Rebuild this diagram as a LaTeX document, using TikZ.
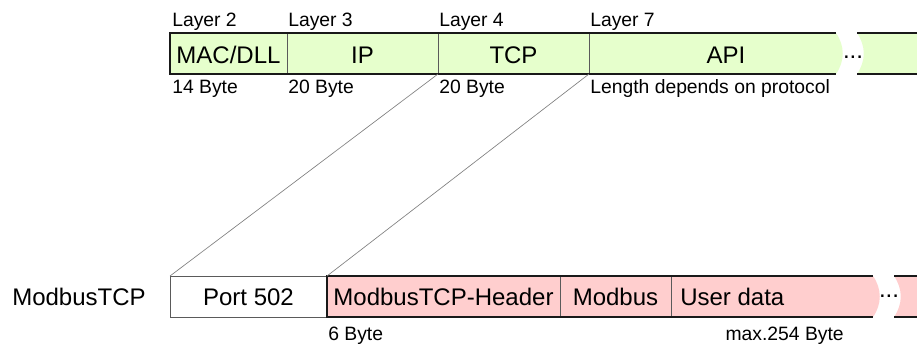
\documentclass[tikz,border=0pt]{standalone}
\usepackage{fontspec}
\setmainfont{Liberation Sans}
\usetikzlibrary{calc}
\definecolor{ipgreen}{RGB}{230,255,204}
\definecolor{mbpink}{RGB}{255,206,206}
\definecolor{rulegray}{RGB}{90,90,90}
\tikzset{
  frame/.style={line width=1.6pt, black!90},
  divider/.style={line width=0.7pt, rulegray},
  link/.style={line width=0.5pt, gray},
  small/.style={font=\fontsize{14.5}{16}\selectfont, inner sep=0pt},
  big/.style={font=\fontsize{18}{20}\selectfont, inner sep=0pt},
}

\begin{document}
\begin{tikzpicture}[x=0.75pt, y=-0.75pt]
  \useasboundingbox (0,0) rectangle (917,347);
  % corners used by the connectors
  \coordinate (tcpSW) at (438,74); \coordinate (apiSW) at (589,74);
  \coordinate (portNW) at (170,276); \coordinate (hdrNW) at (327,276);

  % upper frame
  \fill[ipgreen] (170,33) -- (836,33) .. controls (845,46) and (845,61) .. (836,74) -- (170,74) -- cycle;
  \fill[ipgreen] (857,33) -- (917,33) -- (917,74) -- (857,74) .. controls (866,61) and (866,46) .. (857,33);
  \foreach \x in {287,438,589} \draw[divider] (\x,33) -- (\x,74);
  \draw[frame] (836,33) -- (170,33) -- (170,74) -- (836,74) (857,33) -- (917,33) (857,74) -- (917,74);

  % lower frame
  \draw[divider, fill=white] (170,276) rectangle (327,317);
  \fill[mbpink] (327,276) -- (873,276) .. controls (882,289) and (882,304) .. (873,317) -- (327,317) -- cycle;
  \fill[mbpink] (894,276) -- (917,276) -- (917,317) -- (894,317) .. controls (903,304) and (903,289) .. (894,276);
  \foreach \x in {560,671} \draw[divider] (\x,276) -- (\x,317);
  \draw[frame] (873,276) -- (327,276) -- (327,317) -- (873,317) (894,276) -- (917,276) (894,317) -- (917,317);

  \draw[link] (tcpSW) -- (portNW);
  \draw[link] (apiSW) -- (hdrNW);

  % layer labels
  \node[small, anchor=base west] (l2) at (172,26) {Layer 2};
  \node[small, anchor=base west] (l3) at (288,26) {Layer 3};
  \node[small, anchor=base west] (l4) at (439,26) {Layer 4};
  \node[small, anchor=base west] (l7) at (590,26) {Layer 7};
  \node[small, anchor=base west] (s2) at (172,93) {14 Byte};
  \node[small, anchor=base west] (s3) at (288,93) {20 Byte};
  \node[small, anchor=base west] (s4) at (439,93) {20 Byte};
  \node[small, anchor=base west] (s7) at (590,93) {Length depends on protocol};

  \node[big, anchor=base] (mac) at (228.5,63) {MAC/DLL};
  \node[big, anchor=base] (ip) at (362.5,63) {IP};
  \node[big, anchor=base] (tcp) at (513.5,63) {TCP};
  \node[big, anchor=base] (api) at (726,63) {API};
  \node[big, anchor=base] (moreup) at (853,58) {...};

  \node[big, anchor=base west] (proto) at (12,305) {ModbusTCP};
  \node[big, anchor=base] (port) at (248.5,305) {Port 502};
  \node[big, anchor=base] (hdr) at (443.5,305) {ModbusTCP-Header};
  \node[big, anchor=base] (mb) at (615.5,305) {Modbus};
  \node[big, anchor=base west] (data) at (680,305) {User data};
  \node[big, anchor=base] (moredown) at (889,297) {...};
  \node[small, anchor=base west] (hdrlen) at (328,340) {6 Byte};
  \node[small, anchor=base east] (datalen) at (844,340) {max.254 Byte};
\end{tikzpicture}
\end{document}
